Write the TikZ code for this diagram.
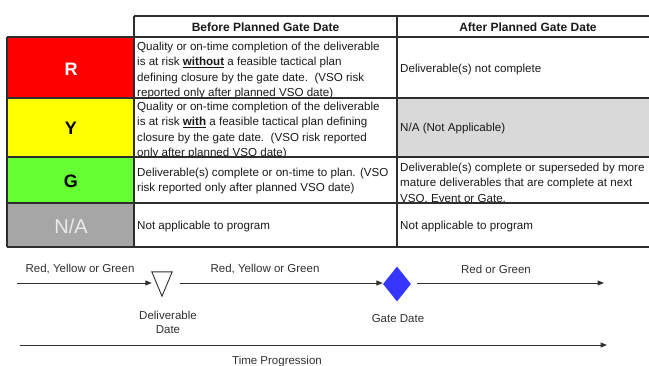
\documentclass[tikz,border=0pt]{standalone}
\usepackage{fontspec}
\setmainfont{Liberation Sans}
\usetikzlibrary{shapes.geometric,arrows.meta}

\definecolor{rcell}{HTML}{FF0000}
\definecolor{ycell}{HTML}{FFFF00}
\definecolor{gcell}{HTML}{66FF33}
\definecolor{nacell}{HTML}{A6A6A6}
\definecolor{nashade}{HTML}{D9D9D9}
\definecolor{ink}{HTML}{1A1A1A}
\definecolor{rule}{HTML}{2E2E2E}
\definecolor{gatefill}{HTML}{3636FF}
\definecolor{lineink}{HTML}{303030}

\tikzset{
  % multi-line cells are placed by the baseline of their last line
  celltxt/.style={anchor=base west, align=left, inner sep=0pt,
    font=\fontsize{11.6}{15.3}\selectfont, text=ink},
  headtxt/.style={anchor=base, inner sep=0pt,
    font=\fontsize{12}{14}\selectfont\bfseries, text=ink},
  ragletter/.style={inner sep=0pt, font=\fontsize{18}{20}\selectfont\bfseries},
  grid/.style={draw=rule, line width=1.4pt},
  timetxt/.style={inner sep=0pt, align=center,
    font=\fontsize{11.5}{14}\selectfont, text=lineink},
  flow/.style={draw=lineink, line width=1pt, -{Triangle[length=6.5pt,width=5pt]}}
}

\begin{document}
\begin{tikzpicture}[x=1pt,y=-1pt]
\useasboundingbox (0,0) rectangle (649,365);
\clip (0,0) rectangle (649,365);

% status colour cells
\fill[rcell]  (7,37)  rectangle (134,98);
\fill[ycell]  (7,98)  rectangle (134,157);
\fill[gcell]  (7,157) rectangle (134,203);
\fill[nacell] (7,203) rectangle (134,247);
\fill[nashade] (397,98) rectangle (662,157);

% status letters
\node[ragletter, text=white] (lr) at (71,69) {R};
\node[ragletter, text=black] (ly) at (71,128) {Y};
\node[ragletter, text=black] (lg) at (71,181) {G};
\node[inner sep=0pt, font=\fontsize{20}{22}\selectfont, text=white!92!black] (lna) at (71,226) {N/A};

% column headers
\node[headtxt] (hbefore) at (265.5,31) {Before Planned Gate Date};
\node[headtxt] (hafter) at (528,31) {After Planned Gate Date};

% before-gate descriptions
\begin{scope}
  \clip (134,37) rectangle (397,98);
  \node[celltxt] (rbefore) at (137,96.4) {Quality or on-time completion of the deliverable\\
    is at risk \underline{\textbf{without}} a feasible tactical plan\\
    defining closure by the gate date.\ \ (VSO risk\\
    reported only after planned VSO date)};
\end{scope}
\begin{scope}
  \clip (134,98) rectangle (397,157);
  \node[celltxt] (ybefore) at (137,156.4) {Quality or on-time completion of the deliverable\\
    is at risk \underline{\textbf{with}} a feasible tactical plan defining\\
    closure by the gate date.\ \ (VSO risk reported\\
    only after planned VSO date)};
\end{scope}
\node[celltxt] (gbefore) at (137,191.8) {Deliverable(s) complete or on-time to plan. (VSO\\
  risk reported only after planned VSO date)};
\node[celltxt] (nabefore) at (137,229.5) {Not applicable to program};

% after-gate descriptions
\node[celltxt] (rafter) at (400,72.5) {Deliverable(s) not complete};
\node[celltxt] (yafter) at (400,131.5) {N/A (Not Applicable)};
\begin{scope}
  \clip (397,157) rectangle (662,203);
  \node[celltxt] (gafter) at (400,202.1) {Deliverable(s) complete or superseded by more\\
    mature deliverables that are complete at next\\
    VSO, Event or Gate.};
\end{scope}
\node[celltxt] (naafter) at (400,229.5) {Not applicable to program};

% table rules
\draw[grid] (134,16) -- (662,16);
\draw[grid] (7,37) -- (662,37);
\draw[grid] (7,98) -- (662,98);
\draw[grid] (7,157) -- (662,157);
\draw[grid] (7,203) -- (662,203);
\draw[grid] (7,247) -- (662,247);
\draw[grid] (7,37) -- (7,247);
\draw[grid] (134,16) -- (134,247);
\draw[grid] (397,16) -- (397,247);

% milestone timeline
\coordinate (tstart) at (17,283);
\node[minimum width=20pt, minimum height=24pt, inner sep=0pt] (deliv) at (162,284) {};
\draw[lineink, line width=0.9pt, fill=white]
  (deliv.north west) -- (deliv.north east) -- (deliv.south) -- cycle;
\node[diamond, fill=gatefill, minimum width=28pt, minimum height=35pt, inner sep=0pt,
  aspect=0.8] (gate) at (397,284) {};
\coordinate (tend) at (604,283);

\draw[flow] (tstart) -- (deliv.west |- tstart);
\draw[flow] ([xshift=8pt]deliv.east |- tstart) -- (gate.west |- tstart);
\draw[flow] ([xshift=6pt]gate.east |- tstart) -- (tend);

\node[timetxt] (l1) at (80,269) {Red, Yellow or Green};
\node[timetxt] (l2) at (265,269) {Red, Yellow or Green};
\node[timetxt] (l3) at (496,269) {Red or Green};
\node[timetxt] (ldeliv) at (168,322) {Deliverable\\Date};
\node[timetxt] (lgate) at (398,319) {Gate Date};

% time axis
\coordinate (axstart) at (20,345);
\coordinate (axend) at (607,345);
\draw[flow] (axstart) -- (axend);
\node[timetxt, anchor=base] (laxis) at (277,364) {Time Progression};
\end{tikzpicture}
\end{document}
